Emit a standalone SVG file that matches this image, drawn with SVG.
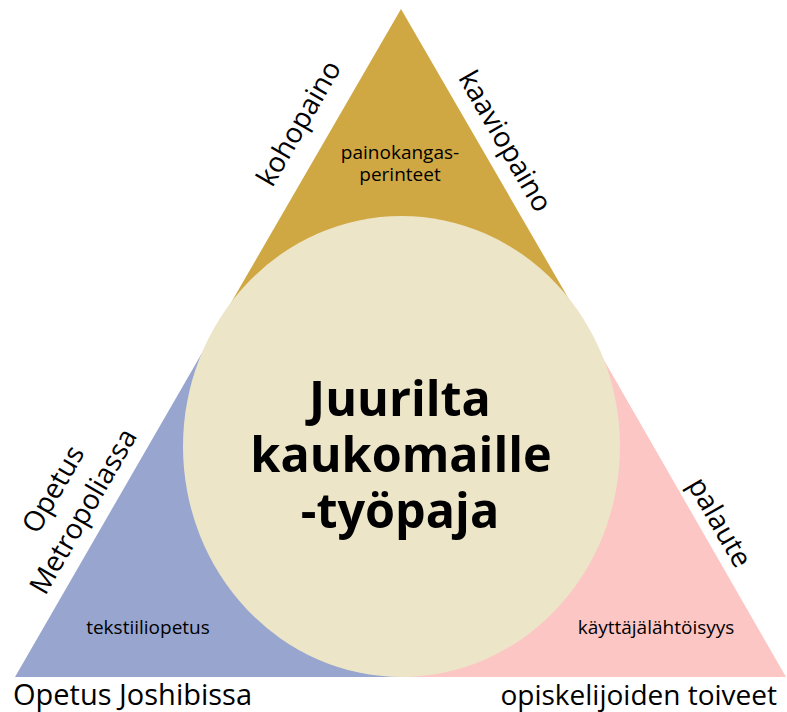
<svg xmlns="http://www.w3.org/2000/svg" width="787" height="712" viewBox="0 0 787 712">
<style>
.t{font-family:"Open Sans","Noto Sans","DejaVu Sans",sans-serif;fill:#000;}
.big{font-size:28px;}
.sm{font-size:19px;}
.title{font-size:48.5px;font-weight:bold;}
</style>
<rect width="787" height="712" fill="#fff"/>
<g id="top-region">
<polygon points="401,9 232,301 570,301" fill="#d0a843"/>
</g>
<g id="left-region">
<polygon points="232,301 15,677 401,677 401,301" fill="#98a6cf"/>
</g>
<g id="right-region">
<polygon points="570,301 401,301 401,677 786,677" fill="#fcc6c4"/>
</g>
<g id="center">
<ellipse cx="401.5" cy="446.5" rx="218.5" ry="230.5" fill="#ede5c8"/>
<text class="t title" text-anchor="middle" x="400" y="416">Juurilta</text>
<text class="t title" text-anchor="middle" x="401" y="472">kaukomaille</text>
<text class="t title" text-anchor="middle" x="400" y="528">-työpaja</text>
</g>
<g id="labels">
<text class="t sm" text-anchor="middle" x="400" y="159">painokangas-</text>
<text class="t sm" text-anchor="middle" x="400" y="181">perinteet</text>
<text class="t sm" text-anchor="middle" x="148" y="634">tekstiiliopetus</text>
<text class="t sm" text-anchor="middle" x="656" y="634">käyttäjälähtöisyys</text>
<text class="t big" style="font-size:29px" x="13" y="705">Opetus Joshibissa</text>
<text class="t big" text-anchor="end" x="777" y="705">opiskelijoiden toiveet</text>
<text class="t big" text-anchor="middle" transform="translate(307,128) rotate(-60)">kohopaino</text>
<text class="t big" text-anchor="middle" transform="translate(497,146) rotate(60)">kaaviopaino</text>
<text class="t big" text-anchor="middle" transform="translate(711.5,527) rotate(60)">palaute</text>
<text class="t big" text-anchor="middle" transform="translate(61.5,494) rotate(-60)">Opetus</text>
<text class="t big" text-anchor="middle" transform="translate(91.5,516) rotate(-60)">Metropoliassa</text>
</g>
</svg>
